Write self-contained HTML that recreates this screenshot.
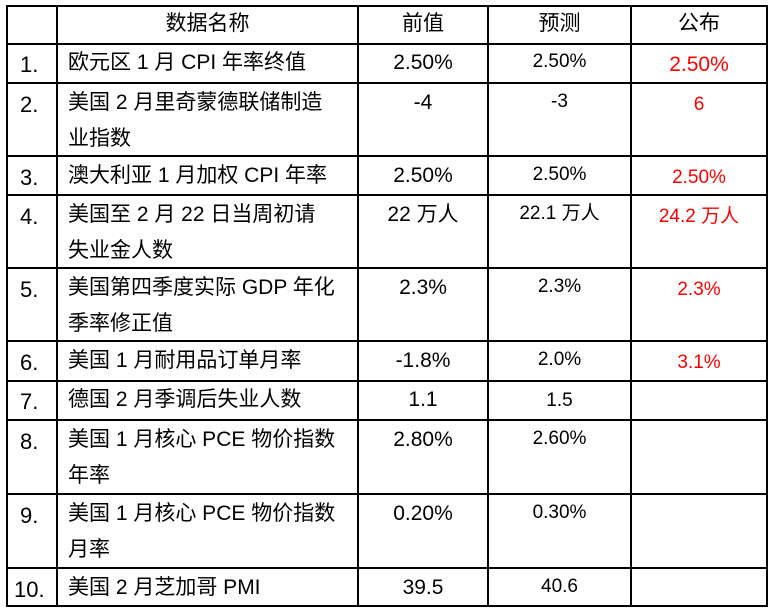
<html><head><style>
body{margin:0;background:#fff;width:774px;height:611px;position:relative;font-family:"Liberation Sans","Noto Sans CJK SC",sans-serif;overflow:hidden}
.h{position:absolute;left:6px;width:762px;height:2px;background:#000}
.v{position:absolute;top:5px;height:602px;width:2px;background:#000}
.t{position:absolute;font-size:21px;line-height:36px;color:#000;white-space:nowrap}
.c{text-align:center}
.r{color:#f00}
.s{font-size:19px}
</style></head><body>
<div class="h" style="top:5px"></div><div class="h" style="top:43px"></div><div class="h" style="top:82px"></div><div class="h" style="top:155px"></div><div class="h" style="top:194px"></div><div class="h" style="top:267px"></div><div class="h" style="top:340px"></div><div class="h" style="top:380px"></div><div class="h" style="top:419px"></div><div class="h" style="top:493px"></div><div class="h" style="top:567px"></div><div class="h" style="top:605px"></div>
<div class="v" style="left:6px"></div><div class="v" style="left:56px"></div><div class="v" style="left:357px"></div><div class="v" style="left:487px"></div><div class="v" style="left:630px"></div><div class="v" style="left:766px"></div>
<div class="t c" style="left:58px;width:299px;top:6px">数据名称</div>
<div class="t c" style="left:359px;width:128px;top:6px">前值</div>
<div class="t c" style="left:489px;width:141px;top:6px">预测</div>
<div class="t c" style="left:632px;width:134px;top:6px">公布</div>
<div class="t" style="left:20px;top:47px;font-size:22px">1.</div><div class="t" style="left:68px;top:45px">欧元区 1 月 CPI 年率终值</div><div class="t c" style="left:359px;width:128px;top:45px">2.50%</div><div class="t c s" style="left:489px;width:141px;top:44px">2.50%</div><div class="t c r" style="left:632px;width:134px;top:47px;font-size:21px">2.50%</div>
<div class="t" style="left:20px;top:87px;font-size:22px">2.</div><div class="t" style="left:68px;top:85px">美国 2 月里奇蒙德联储制造<br>业指数</div><div class="t c" style="left:359px;width:128px;top:85px">-4</div><div class="t c s" style="left:489px;width:141px;top:84px">-3</div><div class="t c r s" style="left:632px;width:134px;top:87px">6</div>
<div class="t" style="left:20px;top:160px;font-size:22px">3.</div><div class="t" style="left:68px;top:158px">澳大利亚 1 月加权 CPI 年率</div><div class="t c" style="left:359px;width:128px;top:158px">2.50%</div><div class="t c s" style="left:489px;width:141px;top:157px">2.50%</div><div class="t c r s" style="left:632px;width:134px;top:160px">2.50%</div>
<div class="t" style="left:20px;top:199px;font-size:22px">4.</div><div class="t" style="left:68px;top:197px">美国至 2 月 22 日当周初请<br>失业金人数</div><div class="t c" style="left:359px;width:128px;top:197px">22 万人</div><div class="t c s" style="left:489px;width:141px;top:196px">22.1 万人</div><div class="t c r s" style="left:632px;width:134px;top:199px">24.2 万人</div>
<div class="t" style="left:20px;top:272px;font-size:22px">5.</div><div class="t" style="left:68px;top:270px">美国第四季度实际 GDP 年化<br>季率修正值</div><div class="t c" style="left:359px;width:128px;top:270px">2.3%</div><div class="t c s" style="left:489px;width:141px;top:269px">2.3%</div><div class="t c r s" style="left:632px;width:134px;top:272px">2.3%</div>
<div class="t" style="left:20px;top:345px;font-size:22px">6.</div><div class="t" style="left:68px;top:343px">美国 1 月耐用品订单月率</div><div class="t c" style="left:359px;width:128px;top:343px">-1.8%</div><div class="t c s" style="left:489px;width:141px;top:342px">2.0%</div><div class="t c r s" style="left:632px;width:134px;top:345px">3.1%</div>
<div class="t" style="left:20px;top:384px;font-size:22px">7.</div><div class="t" style="left:68px;top:382px">德国 2 月季调后失业人数</div><div class="t c" style="left:359px;width:128px;top:382px">1.1</div><div class="t c s" style="left:489px;width:141px;top:383px">1.5</div>
<div class="t" style="left:20px;top:424px;font-size:22px">8.</div><div class="t" style="left:68px;top:422px">美国 1 月核心 PCE 物价指数<br>年率</div><div class="t c" style="left:359px;width:128px;top:422px">2.80%</div><div class="t c s" style="left:489px;width:141px;top:421px">2.60%</div>
<div class="t" style="left:20px;top:498px;font-size:22px">9.</div><div class="t" style="left:68px;top:496px">美国 1 月核心 PCE 物价指数<br>月率</div><div class="t c" style="left:359px;width:128px;top:496px">0.20%</div><div class="t c s" style="left:489px;width:141px;top:495px">0.30%</div>
<div class="t" style="left:14px;top:572px;font-size:22px">10.</div><div class="t" style="left:68px;top:570px">美国 2 月芝加哥 PMI</div><div class="t c" style="left:359px;width:128px;top:570px">39.5</div><div class="t c s" style="left:489px;width:141px;top:569px">40.6</div>
</body></html>
